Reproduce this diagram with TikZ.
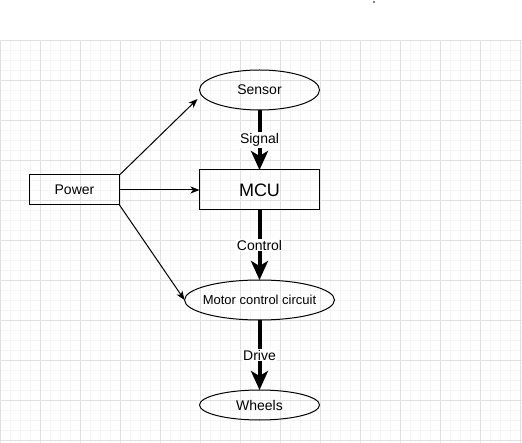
\documentclass[tikz,border=0pt]{standalone}
\usepackage{fontspec}
\setmainfont{Liberation Sans}
\usetikzlibrary{positioning,shapes.geometric,arrows.meta}
\tikzset{
    block/.style={%
        draw, line width=1pt,
        minimum width=#1,
        minimum height=40pt,
        inner sep=0pt, outer sep=0pt,
        font=\fontsize{14}{16}\selectfont
        },
    block/.default=120pt,
    blob/.style={%
        ellipse, draw, line width=1pt,
        minimum width=#1,
        minimum height=40pt,
        inner sep=0pt, outer sep=0pt,
        font=\fontsize{14}{16}\selectfont
        },
    blob/.default=120pt,
    feed/.style={-{Stealth[length=9pt,width=7pt,inset=2.5pt]}, line width=1pt},
    flow/.style={-{Stealth[length=19pt,width=17pt,inset=5pt]}, line width=4pt},
    tag/.style={fill=white, inner sep=1pt, font=\fontsize{14}{16}\selectfont}
}

\begin{document}
\begin{tikzpicture}[x=1pt, y=-1pt]

\useasboundingbox (0,0) rectangle (522,443);

% background grid
\begin{scope}[shift={(0.5,0.5)}]
\draw[black!4, line width=1pt, step=10pt] (0,442) grid (521,40);
\draw[black!12, line width=1pt, step=40pt] (0,442) grid (521,40);
\end{scope}
\fill (374,2) circle (0.9);

\node[blob] (Sensor) at (259.5,90) {Sensor};

\node[block, below=60pt of Sensor, font=\fontsize{18}{20}\selectfont] (MCU) {MCU};

\node[blob=150pt, below=70pt of MCU, inner xsep=-8pt, font=\fontsize{13}{15}\selectfont] (Motor) {Motor control circuit};

\node[blob, minimum height=30pt, below=70pt of Motor] (Wheels) {Wheels};

\node[block=90pt, minimum height=30pt, left=80pt of MCU] (Power) {Power};

\draw[flow] (Sensor) -- node[tag] {Signal} (MCU);
\draw[flow] (MCU) -- node[tag] {Control} (Motor);
\draw[flow] (Motor) -- node[tag] {Drive} (Wheels);

\draw[feed] (Power.north east) -- ([shift={(-2,9)}]Sensor.west);
\draw[feed] (Power) -- (MCU);
\draw[feed] (Power.south east) -- (Motor.west);

\end{tikzpicture}
\end{document}
